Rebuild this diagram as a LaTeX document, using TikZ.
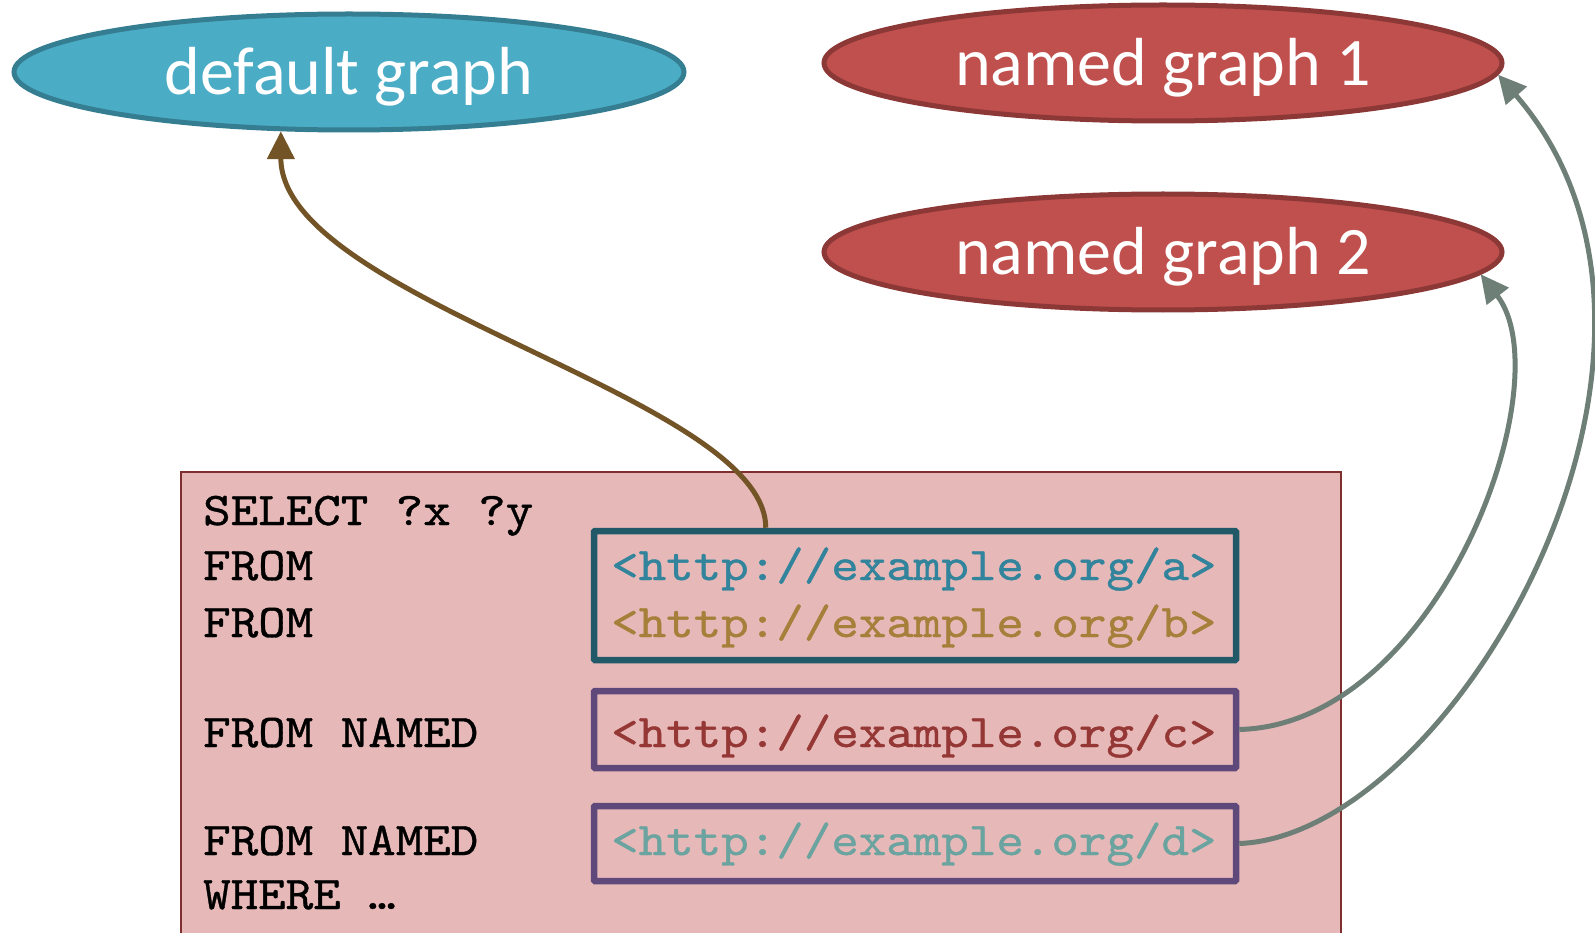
\documentclass[tikz,border=0pt]{standalone}
\usepackage{fontspec}
\usetikzlibrary{arrows.meta,shapes.geometric}
\newfontfamily\labelfont{Carlito}
\newfontfamily\codefont[FakeStretch=1.115,FakeBold=0.8]{lmmono10-regular.otf}
\definecolor{dgfill}{HTML}{4BACC6}
\definecolor{dgline}{HTML}{357E92}
\definecolor{ngfill}{HTML}{C0504D}
\definecolor{ngline}{HTML}{8C3836}
\definecolor{qfill}{HTML}{E6B9B8}
\definecolor{qline}{HTML}{7F2F2D}
\definecolor{abline}{HTML}{215968}
\definecolor{cdline}{HTML}{5F497A}
\definecolor{brownarrow}{HTML}{735426}
\definecolor{greyarrow}{HTML}{6E7F77}
\definecolor{urla}{HTML}{31849B}
\definecolor{urlb}{HTML}{A67F3A}
\definecolor{urlc}{HTML}{953735}
\definecolor{urld}{HTML}{6AA39F}
\newcommand{\glabel}[1]{\raisebox{-23pt}[0pt][0pt]{#1}}
\tikzset{
  graphnode/.style={ellipse, line width=5pt, inner sep=0pt, text=white,
    font=\labelfont\fontsize{68}{68}\selectfont},
  querybox/.style={draw=qline, fill=qfill, line width=2pt, inner sep=0pt, minimum width=1160pt},
  urlbox/.style={draw, line width=6.5pt, inner sep=0pt, minimum width=642pt, rounded corners=1pt},
  codetext/.style={anchor=base west, inner sep=0pt, font=\codefont\fontsize{47}{56}\selectfont},
  connector/.style={line width=5pt, -{Triangle[length=28pt,width=27pt]}},
}
\begin{document}
\begin{tikzpicture}[x=1pt,y=-1pt]
\useasboundingbox (0,0) rectangle (1595,933);
% graphs
\node[graphnode, fill=dgfill, draw=dgline, minimum width=670pt, minimum height=116pt] (dg) at (349,72) {\glabel{default graph}};
\node[graphnode, fill=ngfill, draw=ngline, minimum width=678pt, minimum height=116pt] (ng1) at (1163,63) {\glabel{named graph 1}};
\node[graphnode, fill=ngfill, draw=ngline, minimum width=678pt, minimum height=116pt] (ng2) at (1163,252) {\glabel{named graph 2}};
% query box
\node[querybox, minimum height=468pt] (query) at (761,706) {};
\node[urlbox, draw=abline, minimum height=129pt] (ab) at (915,595.5) {};
\node[urlbox, draw=cdline, minimum height=77pt] (c) at (915,729.5) {};
\node[urlbox, draw=cdline, minimum height=75pt] (d) at (915,843.5) {};
% code lines
\node[codetext] (l1) at (203,525) {SELECT ?x ?y};
\node[codetext] (l2) at (203,580) {FROM};
\node[codetext] (l3) at (203,637) {FROM};
\node[codetext] (l4) at (203,747) {FROM NAMED};
\node[codetext] (l5) at (203,855) {FROM NAMED};
\node[codetext] (l6) at (203,909) {WHERE …};
\node[codetext, text=urla] (ua) at (611,580) {<http://example.org/a>};
\node[codetext, text=urlb] (ub) at (611,637) {<http://example.org/b>};
\node[codetext, text=urlc] (uc) at (611,747) {<http://example.org/c>};
\node[codetext, text=urld] (ud) at (611,855) {<http://example.org/d>};
% connectors
\draw[connector, draw=brownarrow] ([xshift=175pt]ab.north west) .. controls +(0,-131) and +(0,169) .. (dg.221);
\draw[connector, draw=greyarrow] (c.east) .. controls +(200,-5) and +(83,107) .. (ng2.-4.5);
\draw[connector, draw=greyarrow] (d.east) .. controls +(214,-8) and +(236,272) .. (ng1.-2);
\end{tikzpicture}
\end{document}
